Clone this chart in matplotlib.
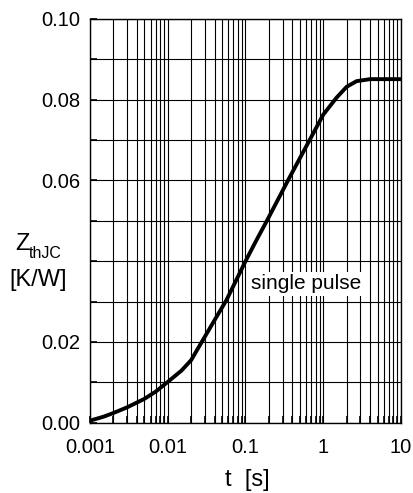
import numpy as np
import matplotlib
matplotlib.use("Agg")
import matplotlib.pyplot as plt
from matplotlib.ticker import FixedLocator, FixedFormatter, LogLocator, NullFormatter

plt.rcParams['font.family'] = ['Liberation Sans', 'DejaVu Sans']

t = [0.001, 0.0015, 0.002, 0.003, 0.005, 0.007, 0.01, 0.015, 0.02, 0.0213, 0.027, 0.04,
     0.057, 0.1, 0.139, 0.187, 0.356, 0.676, 1.0, 1.48, 2.0, 2.68, 4.0, 6.0, 10.0]
zth = [0.0005, 0.0015, 0.0024, 0.0038, 0.0059, 0.0077, 0.0101, 0.0129, 0.0155, 0.0164, 0.0198, 0.0254,
       0.0304, 0.040, 0.0453, 0.0499, 0.0602, 0.0702, 0.0763, 0.0805, 0.0832, 0.0846, 0.0851, 0.0851, 0.0851]

xticks = [0.001, 0.01, 0.1, 1, 10]
xticklabels = ["0.001", "0.01", "0.1", "1", "10"]
yticks = [0.00, 0.02, 0.04, 0.06, 0.08, 0.10]
yticklabels = ["0.00", "0.02", "", "0.06", "0.08", "0.10"]
yminor = [0.01, 0.03, 0.05, 0.07, 0.09]

fig = plt.figure(figsize=(4.13, 4.93), dpi=100)
ax = fig.add_axes([90/413, 1-422.7/493, (401-90)/413, (422.7-19)/493])
ax.set_xscale('log')
ax.set_xlim(0.001, 10)
ax.set_ylim(0, 0.10)

ax.xaxis.set_major_locator(FixedLocator(xticks))
ax.xaxis.set_major_formatter(FixedFormatter(xticklabels))
ax.xaxis.set_minor_locator(LogLocator(base=10, subs=np.arange(2, 10), numticks=20))
ax.xaxis.set_minor_formatter(NullFormatter())
ax.yaxis.set_major_locator(FixedLocator(yticks))
ax.yaxis.set_major_formatter(FixedFormatter(yticklabels))
ax.yaxis.set_minor_locator(FixedLocator(yminor))

ax.grid(True, which='both', color='black', linewidth=0.8)
ax.tick_params(which='both', direction='in', length=5, width=1.2, labelsize=14.5,
               colors='black', top=False, right=False)
ax.tick_params(axis='x', pad=11)
ax.tick_params(axis='y', pad=7)
for s in ax.spines.values():
    s.set_linewidth(1.0)

ax.plot(t, zth, color='black', linewidth=2.8, solid_capstyle='butt')

ax.text(0.6, 0.0344, "single pulse", fontsize=15, ha='center', va='center',
        bbox=dict(facecolor='white', edgecolor='none', pad=2.0))

fig.text(15/413, 1-244/493, "Z", fontsize=17, ha='left', va='center')
fig.text(29/413, 1-253/493, "thJC", fontsize=11.5, ha='left', va='center')
fig.text(38/413, 1-280/493, "[K/W]", fontsize=17, ha='center', va='center')
fig.text(247/413, 1-480/493, "t  [s]", fontsize=17, ha='center', va='center')

fig.savefig("out.png", dpi=100, facecolor='white')
